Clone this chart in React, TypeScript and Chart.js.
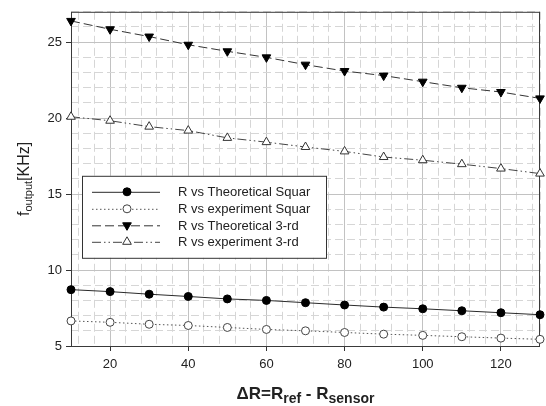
import React, { useEffect, useRef } from 'react';
import { Chart, registerables } from 'chart.js';

Chart.register(...registerables);

const xValues = [10, 20, 30, 40, 50, 60, 70, 80, 90, 100, 110, 120, 130];
const theoSquar = [8.71, 8.58, 8.41, 8.26, 8.1, 8.0, 7.85, 7.7, 7.56, 7.45, 7.32, 7.19, 7.06];
const expSquar = [6.65, 6.56, 6.43, 6.35, 6.22, 6.09, 6.0, 5.89, 5.78, 5.7, 5.61, 5.52, 5.44];
const theo3rd = [26.4, 25.85, 25.37, 24.83, 24.4, 24.0, 23.52, 23.1, 22.8, 22.4, 22.0, 21.72, 21.3];
const exp3rd = [20.09, 19.83, 19.44, 19.18, 18.7, 18.42, 18.1, 17.81, 17.44, 17.23, 16.97, 16.68, 16.35];
const seriesNames = ['R vs Theoretical Squar', 'R vs experiment Squar', 'R vs Theoretical 3-rd', 'R vs experiment 3-rd'];
const xTickLabels = [20, 40, 60, 80, 100, 120];
const yTickLabels = [5, 10, 15, 20, 25];

const FONT = '"Liberation Sans", Arial, sans-serif';

function drawMarker(ctx: CanvasRenderingContext2D, style: string, rotation: number, x: number, y: number, r: number, fill: string, stroke: string) {
  ctx.save();
  ctx.setLineDash([]);
  ctx.lineWidth = 1;
  ctx.fillStyle = fill;
  ctx.strokeStyle = stroke;
  ctx.beginPath();
  if (style === 'triangle') {
    let rad = (rotation * Math.PI) / 180;
    ctx.moveTo(x + Math.sin(rad) * r, y - Math.cos(rad) * r);
    rad += (2 * Math.PI) / 3;
    ctx.lineTo(x + Math.sin(rad) * r, y - Math.cos(rad) * r);
    rad += (2 * Math.PI) / 3;
    ctx.lineTo(x + Math.sin(rad) * r, y - Math.cos(rad) * r);
    ctx.closePath();
  } else {
    ctx.arc(x, y, r, 0, Math.PI * 2);
  }
  ctx.fill();
  ctx.stroke();
  ctx.restore();
}

const framePlugin = {
  id: 'frameAndTitles',
  beforeDatasetsDraw(chart: any) {
    const { ctx, chartArea } = chart;
    const { left, right, top, bottom } = chartArea;
    ctx.save();
    ctx.strokeStyle = '#3a3a3a';
    ctx.lineWidth = 1;
    ctx.setLineDash([]);
    ctx.strokeRect(left + 0.5, top + 0.5, right - left - 1, bottom - top);
    ctx.restore();
  },
  afterDraw(chart: any) {
    const { ctx, chartArea } = chart;
    const { left, right, top, bottom } = chartArea;
    ctx.save();

    // legend
    const lx = left + 11;
    const ly = top + 164;
    const lw = 244;
    const lh = 82;
    ctx.fillStyle = '#ffffff';
    ctx.fillRect(lx, ly, lw, lh);
    ctx.strokeStyle = '#333';
    ctx.lineWidth = 1;
    ctx.setLineDash([]);
    ctx.strokeRect(lx + 0.5, ly + 0.5, lw, lh);
    const rows = [16, 33, 49.5, 66];
    chart.data.datasets.forEach((ds: any, i: number) => {
      const y = ly + rows[i];
      ctx.save();
      ctx.strokeStyle = ds.borderColor;
      ctx.lineWidth = ds.borderWidth;
      ctx.setLineDash(ds.borderDash || []);
      ctx.beginPath();
      ctx.moveTo(lx + 10, y + 0.5);
      ctx.lineTo(lx + 78, y + 0.5);
      ctx.stroke();
      ctx.restore();
      drawMarker(ctx, ds.pointStyle, ds.pointRotation || 0, lx + 45, y, ds.pointRadius, ds.pointBackgroundColor, ds.pointBorderColor);
      ctx.fillStyle = '#222';
      ctx.font = `13px ${FONT}`;
      ctx.textBaseline = 'middle';
      ctx.textAlign = 'left';
      ctx.fillText(ds.label, lx + 96, y + 1);
    });

    // x axis title
    const parts: [string, boolean][] = [['\u0394R=R', false], ['ref', true], [' - R', false], ['sensor', true]];
    const bigF = `bold 17px ${FONT}`;
    const smallF = `bold 14px ${FONT}`;
    let total = 0;
    parts.forEach(([t, sub]) => {
      ctx.font = sub ? smallF : bigF;
      total += ctx.measureText(t).width;
    });
    let x = (left + right) / 2 - total / 2;
    const baseY = 399;
    ctx.fillStyle = '#222';
    ctx.textAlign = 'left';
    ctx.textBaseline = 'alphabetic';
    parts.forEach(([t, sub]) => {
      ctx.font = sub ? smallF : bigF;
      ctx.fillText(t, x, sub ? baseY + 4 : baseY);
      x += ctx.measureText(t).width;
    });

    // y axis title
    const yparts: [string, boolean][] = [['f', false], ['output', true], ['[KHz]', false]];
    const yBig = `16px ${FONT}`;
    const ySmall = `11px ${FONT}`;
    let ytotal = 0;
    yparts.forEach(([t, sub]) => {
      ctx.font = sub ? ySmall : yBig;
      ytotal += ctx.measureText(t).width;
    });
    ctx.save();
    ctx.translate(29, (top + bottom) / 2);
    ctx.rotate(-Math.PI / 2);
    let yx = -ytotal / 2;
    yparts.forEach(([t, sub]) => {
      ctx.font = sub ? ySmall : yBig;
      ctx.fillText(t, yx, sub ? 3 : 0);
      yx += ctx.measureText(t).width;
    });
    ctx.restore();
    ctx.restore();
  },
};

export default function App() {
  const ref = useRef<HTMLCanvasElement | null>(null);
  useEffect(() => {
    if (!ref.current) return;
    const mk = (label: string, data: number[], extra: any) => ({
      label,
      data: xValues.map((x, i) => ({ x, y: data[i] })),
      borderWidth: 1,
      pointBorderWidth: 1,
      pointRadius: 4,
      pointHoverRadius: 4,
      fill: false,
      tension: 0,
      clip: false,
      ...extra,
    });
    const chart = new Chart(ref.current, {
      type: 'line',
      data: {
        datasets: [
          mk(seriesNames[0], theoSquar, {
            borderColor: '#2a2a2a', borderDash: [], pointStyle: 'circle',
            pointBackgroundColor: '#000', pointBorderColor: '#000',
          }),
          mk(seriesNames[1], expSquar, {
            borderColor: '#555', borderDash: [1.5, 2.5], pointStyle: 'circle',
            pointBackgroundColor: '#fff', pointBorderColor: '#444',
          }),
          mk(seriesNames[2], theo3rd, {
            borderColor: '#333', borderDash: [9, 4], pointStyle: 'triangle', pointRotation: 180,
            pointRadius: 5, pointHoverRadius: 5,
            pointBackgroundColor: '#000', pointBorderColor: '#000',
          }),
          mk(seriesNames[3], exp3rd, {
            borderColor: '#444', borderDash: [9, 3, 1.5, 3, 1.5, 3], pointStyle: 'triangle',
            pointRadius: 5, pointHoverRadius: 5,
            pointBackgroundColor: '#fff', pointBorderColor: '#333',
          }),
        ],
      },
      options: {
        animation: false,
        responsive: true,
        maintainAspectRatio: false,
        layout: { padding: { left: 0, top: 8, right: 6, bottom: 0 } },
        plugins: { legend: { display: false }, tooltip: { enabled: false } },
        scales: {
          x: {
            type: 'linear',
            min: 10,
            max: 130,
            afterBuildTicks: (scale: any) => {
              const t: any[] = [{ value: 10 }];
              for (let v = 12; v < 130; v += 4) t.push({ value: v });
              t.push({ value: 130 });
              scale.ticks = t;
            },
            afterFit: (scale: any) => { scale.height = 60; },
            border: {
              display: false,
              dash: (c: any) => (c.tick && c.tick.value % 20 !== 0 ? [8, 4] : []),
            },
            grid: {
              color: (c: any) => (c.tick && c.tick.value % 20 === 0 ? '#c2c2c2' : '#d6d6d6'),
              lineWidth: 1,
              drawTicks: true,
              tickLength: 5,
              tickColor: (c: any) => (c.tick && c.tick.value % 20 === 0 ? '#333' : 'rgba(0,0,0,0)'),
            },
            ticks: {
              autoSkip: false,
              maxRotation: 0,
              padding: 6,
              color: '#222',
              font: { family: FONT, size: 13 },
              callback: (v: any) => (xTickLabels.includes(Number(v)) ? String(v) : ''),
            },
          },
          y: {
            type: 'linear',
            min: 5,
            max: 27,
            afterBuildTicks: (scale: any) => {
              const t: any[] = [];
              for (let v = 5; v <= 27; v += 1) t.push({ value: v });
              scale.ticks = t;
            },
            afterFit: (scale: any) => { scale.width = 71; },
            border: {
              display: false,
              dash: (c: any) => (c.tick && c.tick.value % 5 !== 0 ? [8, 4] : []),
            },
            grid: {
              color: (c: any) => (c.tick && c.tick.value % 5 === 0 ? '#c2c2c2' : '#d6d6d6'),
              lineWidth: 1,
              drawTicks: true,
              tickLength: 5,
              tickColor: (c: any) => (c.tick && c.tick.value % 5 === 0 ? '#333' : 'rgba(0,0,0,0)'),
            },
            ticks: {
              autoSkip: false,
              padding: 4,
              color: '#222',
              font: { family: FONT, size: 13 },
              callback: (v: any) => (yTickLabels.includes(Number(v)) ? String(v) : ''),
            },
          },
        },
      },
      plugins: [framePlugin],
    } as any);
    return () => chart.destroy();
  }, []);
  return (
    <div style={{ position: 'absolute', left: 0, top: 0, width: 546, height: 406, background: '#fff' }}>
      <canvas ref={ref} />
    </div>
  );
}
